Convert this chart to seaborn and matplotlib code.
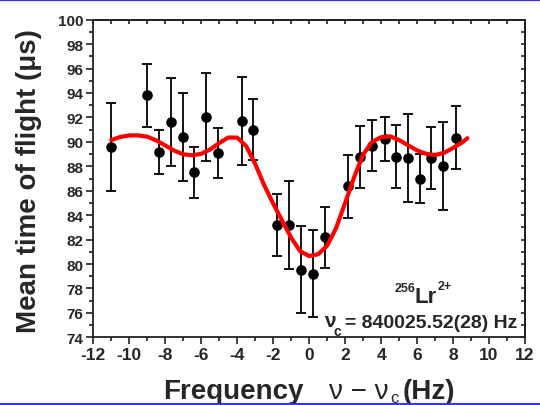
import matplotlib
matplotlib.use('Agg')
import matplotlib.pyplot as plt
import seaborn as sns
import pandas as pd
from matplotlib.ticker import MultipleLocator, NullFormatter
from matplotlib.lines import Line2D

# ---- data ----
freq = [-11.0, -9.0, -8.35, -7.7, -7.0, -6.4, -5.75, -5.05, -3.75, -3.1,
        -1.78, -1.11, -0.46, 0.22, 0.87, 2.17, 2.83, 3.52, 4.19, 4.85,
        5.5, 6.15, 6.8, 7.44, 8.15]
tof = [89.6, 93.8, 89.2, 91.6, 90.4, 87.5, 92.0, 89.1, 91.7, 91.0,
       83.2, 83.2, 79.55, 79.2, 82.2, 86.35, 88.75, 89.7, 90.2, 88.8,
       88.65, 87.0, 88.65, 88.0, 90.35]
err = [3.6, 2.55, 1.8, 3.6, 3.6, 2.07, 3.6, 2.05, 3.6, 2.5,
       2.55, 3.6, 3.6, 3.55, 2.5, 2.55, 2.55, 2.05, 1.8, 2.55,
       3.6, 2.0, 2.55, 3.6, 2.55]

fit_x = [-11.0, -10.5, -10.0, -9.5, -9.0, -8.5, -8.0, -7.5, -7.0, -6.5,
         -6.0, -5.5, -5.0, -4.5, -4.0, -3.5, -3.0, -2.5, -2.0, -1.5,
         -1.0, -0.5, 0.0, 0.5, 1.0, 1.5, 2.0, 2.5, 3.0, 3.5,
         4.0, 4.5, 5.0, 5.5, 6.0, 6.5, 7.0, 7.5, 8.0, 8.5, 8.8]
fit_y = [90.15, 90.4, 90.53, 90.53, 90.42, 90.12, 89.7, 89.28, 88.98, 88.9,
         89.02, 89.38, 89.9, 90.35, 90.35, 89.65, 88.2, 86.45, 84.95, 83.55,
         82.15, 81.05, 80.65, 80.8, 81.5, 82.95, 85.0, 87.1, 88.95, 90.0,
         90.38, 90.45, 90.15, 89.72, 89.3, 89.02, 88.92, 89.1, 89.5, 89.95, 90.3]

x_ticks_major = 2
y_ticks_major = 2
xlabel_word = "Frequency"
ylabel_text = "Mean time of flight (μs)"
ion_label = "Lr"
ion_mass = "256"
ion_charge = "2+"
nu_c_text = "= 840025.52(28) Hz"

df = pd.DataFrame({"freq": freq, "tof": tof, "err": err})
fit_df = pd.DataFrame({"fx": fit_x, "fy": fit_y})

sns.set_theme(style="ticks")
plt.rcParams['font.family'] = ['Liberation Sans', 'DejaVu Sans']
plt.rcParams['font.weight'] = 'bold'
plt.rcParams['axes.unicode_minus'] = False

W, H = 540, 406
fig = plt.figure(figsize=(W / 100, H / 100), dpi=100)
fig.patch.set_facecolor('white')

def fxp(px):
    return px / W

def fyp(py):
    return 1 - py / H

left, right, top, bottom = 93.3, 525.0, 20.7, 338.3
ax = fig.add_axes([fxp(left), fyp(bottom), (right - left) / W, (bottom - top) / H])
ax.set_facecolor('white')

ax.errorbar(df["freq"], df["tof"], yerr=df["err"], fmt='none', ecolor='black',
            elinewidth=1.3, capsize=3.8, capthick=1.3, zorder=2)
sns.scatterplot(data=df, x="freq", y="tof", color='black', s=58, linewidth=0,
                zorder=3, ax=ax, legend=False)
sns.lineplot(data=fit_df, x="fx", y="fy", color='#ff0000', linewidth=3.0,
             sort=False, zorder=4, ax=ax, legend=False)

ax.set_xlim(-12, 12)
ax.set_ylim(74, 100)
ax.set_xlabel("")
ax.set_ylabel("")
ax.xaxis.set_major_locator(MultipleLocator(x_ticks_major))
ax.xaxis.set_minor_locator(MultipleLocator(1))
ax.yaxis.set_major_locator(MultipleLocator(y_ticks_major))
ax.yaxis.set_minor_locator(MultipleLocator(1))
ax.tick_params(which='major', direction='out', length=5, width=1.2, color='#222222')
ax.tick_params(which='minor', direction='out', length=3, width=1.2, color='#222222')
ax.tick_params(axis='x', which='major', labelsize=12.5, pad=2)
ax.tick_params(axis='y', which='major', labelsize=11, pad=2)
for sp in ax.spines.values():
    sp.set_visible(True)
    sp.set_linewidth(1.3)
    sp.set_color('#222222')

secx = ax.secondary_xaxis('top')
secx.xaxis.set_major_locator(MultipleLocator(1))
secx.xaxis.set_major_formatter(NullFormatter())
secx.tick_params(direction='in', length=3, width=1.2, color='#222222')
secx.spines['top'].set_linewidth(1.3)
secx.spines['top'].set_color('#222222')
secy = ax.secondary_yaxis('right')
secy.yaxis.set_major_locator(MultipleLocator(1))
secy.yaxis.set_major_formatter(NullFormatter())
secy.tick_params(direction='in', length=3, width=1.2, color='#222222')
secy.spines['right'].set_linewidth(1.3)
secy.spines['right'].set_color('#222222')

# y label
fig.text(fxp(29), fyp(181), ylabel_text, rotation=90, ha='center', va='center',
         fontsize=20, fontweight='bold')

# x label pieces
base = fyp(399)
fig.text(fxp(163), base, xlabel_word, ha='left', va='baseline', fontsize=20, fontweight='bold')
fig.text(fxp(329), base, "ν − ν", ha='left', va='baseline', fontsize=20, fontweight='normal')
fig.text(fxp(390), fyp(403), "c", ha='left', va='baseline', fontsize=12, fontweight='normal')
fig.text(fxp(403), base, "(Hz)", ha='left', va='baseline', fontsize=20, fontweight='bold')

# annotation
fig.text(fxp(395), fyp(292), ion_mass, ha='left', va='baseline', fontsize=9, fontweight='bold')
fig.text(fxp(415), fyp(303), ion_label, ha='left', va='baseline', fontsize=16, fontweight='bold')
fig.text(fxp(438), fyp(290), ion_charge, ha='left', va='baseline', fontsize=9, fontweight='bold')
fig.text(fxp(324), fyp(327), "ν", ha='left', va='baseline', fontsize=15, fontweight='bold')
fig.text(fxp(334), fyp(336), "c", ha='left', va='baseline', fontsize=10, fontweight='bold')
fig.text(fxp(345), fyp(328), nu_c_text, ha='left', va='baseline', fontsize=14, fontweight='bold')

# blue frame lines
fig.add_artist(Line2D([0, 1], [fyp(0.8), fyp(0.8)], transform=fig.transFigure,
                      color='#3232f0', linewidth=1.6, zorder=10))
fig.add_artist(Line2D([0, 1], [fyp(404.8), fyp(404.8)], transform=fig.transFigure,
                      color='#3232f0', linewidth=1.4, zorder=10))

fig.savefig('out.png', dpi=100, facecolor='white')
